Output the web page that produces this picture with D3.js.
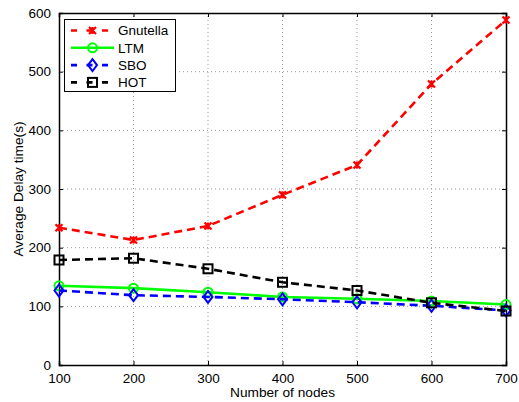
<!DOCTYPE html>
<html>
<head>
<meta charset="utf-8">
<script src="https://cdn.jsdelivr.net/npm/d3@7"></script>
<style>
  body { margin: 0; background: #fff; }
  text { font-family: "Liberation Sans", Arial, sans-serif; }
</style>
</head>
<body>
<div id="chart"></div>
<script>
// data
var nodes = [100, 200, 300, 400, 500, 600, 700];
var gnutella = [234, 213, 237, 290, 341, 479, 588];
var ltm = [135, 131, 124, 116, 113, 109, 103];
var sbo = [127, 119, 116, 112, 107, 101, 93];
var hot = [179, 182, 164, 141, 127, 106, 92];
var yTicks = [0, 100, 200, 300, 400, 500, 600];

var series = [
  { name: 'Gnutella', values: gnutella, color: '#ff0000', dash: '8,5', marker: 'x' },
  { name: 'LTM', values: ltm, color: '#00ff00', dash: null, marker: 'circle' },
  { name: 'SBO', values: sbo, color: '#0000ff', dash: '8,5', marker: 'diamond' },
  { name: 'HOT', values: hot, color: '#000000', dash: '8,5', marker: 'square' }
];

var width = 519, height = 402;
var margin = { left: 59, right: 13, top: 13, bottom: 37 };

var svg = d3.select('#chart').append('svg')
  .attr('width', width)
  .attr('height', height);

var x = d3.scaleLinear().domain([100, 700]).range([margin.left, width - margin.right]);
var y = d3.scaleLinear().domain([0, 600]).range([height - margin.bottom, margin.top]);

// grid
var grid = svg.append('g');
grid.selectAll('.gx').data(nodes.slice(1, -1)).enter().append('line')
  .attr('x1', function (d) { return x(d); }).attr('x2', function (d) { return x(d); })
  .attr('y1', y(0)).attr('y2', y(600))
  .attr('stroke', '#999').attr('stroke-width', 1).attr('stroke-dasharray', '1,3');
grid.selectAll('.gy').data(yTicks.slice(1, -1)).enter().append('line')
  .attr('y1', function (d) { return y(d); }).attr('y2', function (d) { return y(d); })
  .attr('x1', x(100)).attr('x2', x(700))
  .attr('stroke', '#999').attr('stroke-width', 1).attr('stroke-dasharray', '1,3');

// axes (ticks inward, on all sides)
var xAxis = svg.append('g').attr('transform', 'translate(0,' + y(0) + ')')
  .call(d3.axisBottom(x).tickValues(nodes).tickSize(-4).tickPadding(8).tickFormat(d3.format('d')));
var xTop = svg.append('g').attr('transform', 'translate(0,' + y(600) + ')')
  .call(d3.axisTop(x).tickValues(nodes).tickSize(-4).tickFormat(''));
var yAxis = svg.append('g').attr('transform', 'translate(' + x(100) + ',0)')
  .call(d3.axisLeft(y).tickValues(yTicks).tickSize(-4).tickPadding(8));
var yRight = svg.append('g').attr('transform', 'translate(' + x(700) + ',0)')
  .call(d3.axisRight(y).tickValues(yTicks).tickSize(-4).tickFormat(''));

[xAxis, xTop, yAxis, yRight].forEach(function (a) {
  a.select('.domain').attr('stroke', '#000').attr('stroke-width', 1.5);
  a.selectAll('.tick line').attr('stroke', '#000');
  a.selectAll('text').attr('font-size', 13.5).attr('fill', '#000')
    .style('font-family', '"Liberation Sans", Arial, sans-serif');
});

// axis labels
svg.append('text')
  .attr('x', (x(100) + x(700)) / 2).attr('y', 397)
  .attr('text-anchor', 'middle').attr('font-size', 13.7)
  .text('Number of nodes');
svg.append('text')
  .attr('transform', 'translate(23,' + (y(300)) + ') rotate(-90)')
  .attr('text-anchor', 'middle').attr('font-size', 13.7)
  .text('Average Delay time(s)');

function drawMarker(g, type, color, cx, cy) {
  if (type === 'x') {
    var s = 3.5;
    g.append('path')
      .attr('d', 'M' + (cx - s) + ',' + (cy - s) + 'L' + (cx + s) + ',' + (cy + s) +
        'M' + (cx - s) + ',' + (cy + s) + 'L' + (cx + s) + ',' + (cy - s) +
        'M' + cx + ',' + (cy - s) + 'L' + cx + ',' + (cy + s))
      .attr('stroke', color).attr('stroke-width', 2.2).attr('fill', 'none');
  } else if (type === 'circle') {
    g.append('circle').attr('cx', cx).attr('cy', cy).attr('r', 4.5)
      .attr('stroke', color).attr('stroke-width', 2).attr('fill', 'none');
  } else if (type === 'diamond') {
    g.append('path')
      .attr('d', 'M' + cx + ',' + (cy - 6) + 'L' + (cx + 4.5) + ',' + cy + 'L' + cx + ',' + (cy + 6) + 'L' + (cx - 4.5) + ',' + cy + 'Z')
      .attr('stroke', color).attr('stroke-width', 2).attr('fill', 'none');
  } else if (type === 'square') {
    g.append('rect').attr('x', cx - 4.5).attr('y', cy - 4.5).attr('width', 9).attr('height', 9)
      .attr('stroke', color).attr('stroke-width', 2).attr('fill', 'none');
  }
}

var line = d3.line()
  .x(function (d, i) { return x(nodes[i]); })
  .y(function (d) { return y(d); });

// draw series
series.forEach(function (s) {
  var g = svg.append('g');
  g.append('path')
    .datum(s.values)
    .attr('d', line)
    .attr('fill', 'none')
    .attr('stroke', s.color)
    .attr('stroke-width', 2.6)
    .attr('stroke-dasharray', s.dash);
  s.values.forEach(function (v, i) {
    drawMarker(g, s.marker, s.color, x(nodes[i]), y(v));
  });
});

// legend
var leg = svg.append('g');
leg.append('rect')
  .attr('x', 64.5).attr('y', 19.5).attr('width', 111).attr('height', 72)
  .attr('fill', '#fff').attr('stroke', '#000').attr('stroke-width', 1);
series.forEach(function (s, i) {
  var ly = 30.5 + i * 17.3;
  leg.append('line')
    .attr('x1', 71).attr('x2', 114).attr('y1', ly).attr('y2', ly)
    .attr('stroke', s.color).attr('stroke-width', 2.6)
    .attr('stroke-dasharray', s.dash ? '6,9.5' : null);
  drawMarker(leg, s.marker, s.color, 92.5, ly);
  leg.append('text')
    .attr('x', 118).attr('y', ly + 4.8)
    .attr('font-size', 13.5)
    .text(s.name);
});
</script>
</body>
</html>
